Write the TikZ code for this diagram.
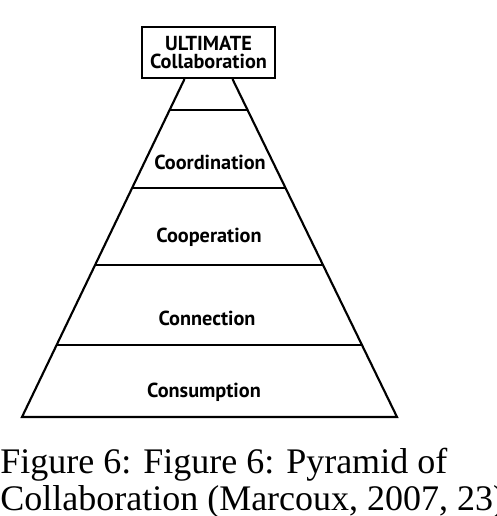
\documentclass[tikz,border=0pt]{standalone}
\usepackage{fontspec}
\setmainfont{Liberation Serif}
\newfontfamily\levelfont{PT Sans}
\usetikzlibrary{calc}

\begin{document}
\begin{tikzpicture}[
    x=0.75pt,
    y=-0.75pt,
    side/.style={black, line width=1.6pt, line join=miter},
    level/.style={black, line width=1.5pt},
    frame/.style={draw=black, line width=1.6pt},
    levellabel/.style={font=\levelfont\bfseries\fontsize{15.2}{13.4}\selectfont, inner sep=0pt},
    caption/.style={font=\fontsize{27}{27.75}\selectfont, align=left, inner sep=0pt}
]

% -------------------------------------------------------------------------
% Limits
% -------------------------------------------------------------------------
\def\xmax{496}
\def\ymax{516}

\useasboundingbox (0,0) rectangle (\xmax,\ymax);

% -------------------------------------------------------------------------
% Top box
% -------------------------------------------------------------------------
\node[ frame, levellabel, align=center,
       minimum width=99.75pt, minimum height=38.25pt ]
    (ultimate) at (208.5,52.5) {ULTIMATE\\Collaboration};

% -------------------------------------------------------------------------
% Pyramid corners
% -------------------------------------------------------------------------
\coordinate (apexL) at ($(ultimate.south) + (-24,0)$);
\coordinate (apexR) at ($(ultimate.south) + ( 24,0)$);
\coordinate (baseL) at (22,417);
\coordinate (baseR) at (397,417);

% -------------------------------------------------------------------------
% Level lines
% -------------------------------------------------------------------------
\begin{scope}
    \clip (apexL) -- (apexR) -- (baseR) -- (baseL) -- cycle;
    \foreach \y in {110,188,265,345}{
        \draw[ level ]
            (0,\y) -- (\xmax,\y);
    }
\end{scope}

% -------------------------------------------------------------------------
% Sides and base
% -------------------------------------------------------------------------
\draw[ side ]
    (apexL) -- (baseL) -- (baseR) -- (apexR);

% -------------------------------------------------------------------------
% Level labels
% -------------------------------------------------------------------------
\node[ levellabel ] (coordination) at (210,162) {Coordination};
\node[ levellabel ] (cooperation)  at (209,237) {Cooperation};
\node[ levellabel ] (connection)   at (207,318) {Connection};
\node[ levellabel ] (consumption)  at (204,392) {Consumption};

% -------------------------------------------------------------------------
% Caption (cut off at the edges, as in the source)
% -------------------------------------------------------------------------
\node[ caption, anchor=base west ] (caption) at (0,510)
    {Figure 6: Figure 6: Pyramid of\\Collaboration (Marcoux, 2007, 23)};

\end{tikzpicture}
\end{document}
